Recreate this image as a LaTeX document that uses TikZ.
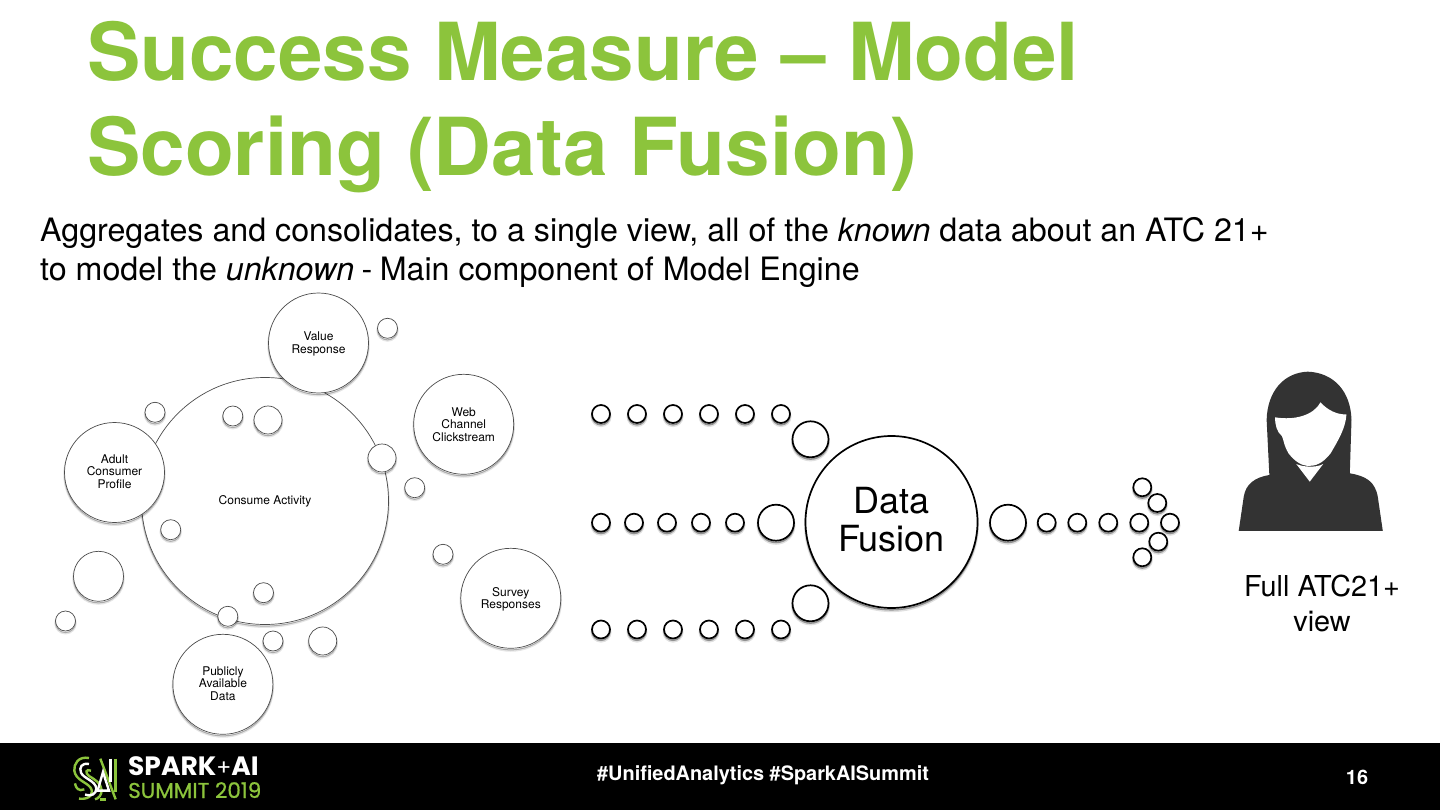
\documentclass[tikz,border=0pt]{standalone}
\usepackage{fontspec}
\setmainfont{TeX Gyre Heros}
\newfontfamily\logofont{Poppins}
\newfontfamily\logomed[FakeBold=.7]{Poppins}
\definecolor{titlegreen}{HTML}{8CC43C}
\definecolor{inkdark}{HTML}{333333}
\newcommand{\nudgetext}[2]{\raisebox{#1}[\height][\depth]{\parbox{90pt}{\centering #2}}}
\tikzset{
  softshadow/.style={preaction={draw=black,draw opacity=.10,line width=2.5pt,fill=none,transform canvas={yshift=-2.2pt}},
                     preaction={draw=black,draw opacity=.25,line width=1pt,fill=none,transform canvas={yshift=-1.6pt}}},
  hardshadow/.style={preaction={draw=black,draw opacity=.12,line width=3pt,fill=none,transform canvas={yshift=-2.6pt}},
                     preaction={draw=black,draw opacity=.35,line width=1.5pt,fill=none,transform canvas={yshift=-1.8pt}}},
  gcirc/.style={circle,draw=black!70,line width=.7pt,fill=white,inner sep=0pt,softshadow,align=center,font=\fontsize{12}{12.5}\selectfont},
  labelc/.style={gcirc,minimum size=100pt},
  bigc/.style={gcirc,minimum size=247pt},
  g10/.style={gcirc,minimum size=20pt},
  g14/.style={gcirc,minimum size=28pt},
  g25/.style={gcirc,minimum size=50pt},
  bcirc/.style={circle,draw=black,line width=1.7pt,fill=white,inner sep=0pt,hardshadow},
  b9/.style={bcirc,minimum size=18pt},
  b18/.style={bcirc,minimum size=36pt},
  fuse/.style={bcirc,minimum size=172pt,align=center,font=\fontsize{36}{38}\selectfont},
  titletext/.style={anchor=base west,inner sep=0pt,text=titlegreen,font=\fontsize{80}{80}\selectfont\bfseries},
  bodytext/.style={anchor=base west,inner sep=0pt,font=\fontsize{32.2}{33}\selectfont},
  foot/.style={inner sep=0pt,text=white,font=\bfseries\fontsize{19.9}{20}\selectfont},
}
\begin{document}
\begin{tikzpicture}[x=1pt,y=-1pt]
\useasboundingbox (0,0) rectangle (1440,810);
\fill[white] (0,0) rectangle (1440,810);
\node[titletext] (t1) at (87,81) {Success Measure – Model};
\node[titletext] (t2) at (87,176) {Scoring (Data Fusion)};
\node[bodytext] (b1) at (40,242) {Aggregates and consolidates, to a single view, all of the \textit{known} data about an ATC 21+};
\node[bodytext] (b2) at (40,280) {to model the \textit{unknown}\hspace{-1.5pt} -\hspace{-1.5pt} Main component of Model Engine};
% left cluster
\node[bigc] (consume) at (265,501) {Consume Activity};
\node[labelc] (value) at (318.5,343) {\nudgetext{-1pt}{Value\\Response}};
\node[labelc] (web) at (463.7,424.3) {Web\\Channel\\Clickstream};
\node[labelc] (adult) at (114.5,472.5) {\nudgetext{1pt}{Adult\\Consumer\\Profile}};
\node[labelc] (survey) at (510.8,598.3) {\nudgetext{-1pt}{Survey\\Responses}};
\node[labelc] (pub) at (222.9,684.3) {\nudgetext{1pt}{Publicly\\Available\\Data}};
\foreach \n/\p/\q in {a/387.5/328.3,b/155/412.3,c/232.8/416,d/414.7/487.7,e/170.7/529.7,f/65.5/621,g/263.5/592.7,h/227.8/616.3,i/273/641,j/443/554.3}
  \node[g10] (s\n) at (\p,\q) {};
\foreach \n/\p/\q in {a/268/420,b/382/458,c/322.7/641}
  \node[g14] (m\n) at (\p,\q) {};
\node[g25] (lg) at (98.5,576.3) {};
% fusion
\foreach \n/\p in {1/601,2/637,3/673,4/709,5/745,6/781}{
  \node[b9] (top\n) at (\p,414) {};
  \node[b9] (bot\n) at (\p,629.5) {};
}
\foreach \n/\p in {1/601,2/634,3/667,4/701,5/735}
  \node[b9] (mid\n) at (\p,522.7) {};
\node[b18] (bigmid) at (776,522.7) {};
\node[b18] (bigtop) at (810.5,439.3) {};
\node[b18] (bigbot) at (810.5,603.3) {};
\node[fuse] (fusion) at (891.5,522) {\raisebox{2pt}[\height][\depth]{\parbox{120pt}{\centering Data\\Fusion}}};
\node[b18] (bigout) at (1008,522.7) {};
\foreach \n/\p in {1/1046.7,2/1077.3,3/1108.3,4/1139.3,5/1170}
  \node[b9] (out\n) at (\p,522.7) {};
\foreach \n/\p/\q in {1/1142.3/487.3,2/1157.3/503,3/1158.3/541.7,4/1142.3/557.3}
  \node[b9] (head\n) at (\p,\q) {};
% person
\begin{scope}[shift={(1219.5,360)},x=.3367pt,y=-.3333pt]
\fill[inkdark] (57,513) -- (72,410) .. controls (78,372) and (105,352) .. (148,345)
  -- (140,180) .. controls (142,95) and (190,38) .. (262,35)
  .. controls (340,38) and (390,95) .. (392,180) -- (387,340)
  .. controls (435,348) and (462,365) .. (470,410) -- (485,513) -- cycle;
\fill[white] (165,172) .. controls (225,182) and (280,165) .. (300,127)
  .. controls (320,150) and (350,165) .. (377,163)
  .. controls (375,205) and (350,245) .. (330,280)
  .. controls (305,312) and (285,318) .. (262,318)
  .. controls (240,316) and (220,300) .. (205,280)
  .. controls (190,255) and (190,235) .. (185,228)
  .. controls (170,215) and (165,195) .. (165,172) -- cycle;
\fill[white] (228,312) .. controls (245,320) and (285,325) .. (308,312) -- (268,365) -- cycle;
\end{scope}
\node[align=center,inner sep=0pt,font=\fontsize{28.8}{35}\selectfont] (full) at (1322,603.5) {Full ATC21+\\view};
% footer
\fill[black] (0,743) rectangle (1440,810);
\node[foot] (hash) at (763,775) {\#UnifiedAnalytics \#SparkAISummit};
\node[foot] (num) at (1357,777) {16};
% logo
\begin{scope}[shift={(65,750)},x=.3333pt,y=-.3333pt,line width=2.4pt]
\draw[titlegreen] (72,24) .. controls (40,18) and (26,42) .. (28,62) .. controls (32,90) and (62,95) .. (76,112) .. controls (88,128) and (78,150) .. (42,146);
\draw[white] (72,42) .. controls (50,38) and (42,52) .. (48,68) .. controls (56,86) and (92,92) .. (94,116) .. controls (94,132) and (78,140) .. (60,134);
\draw[titlegreen] (78,62) .. controls (62,56) and (60,68) .. (72,78) .. controls (92,90) and (108,100) .. (110,120) .. controls (110,136) and (100,146) .. (90,148);
\draw[titlegreen] (30,100) .. controls (32,115) and (42,125) .. (58,118);
\draw[titlegreen] (106,26) -- (152,148);
\draw[white] (114,66) -- (132,122) -- (98,122) -- cycle;
\draw[titlegreen] (122,148) -- (104,148);
\draw[white] (136,26) -- (136,96);
\draw[titlegreen] (152,26) -- (152,126);
\end{scope}
\node[anchor=base west,inner sep=0pt,text=white,font=\logofont\bfseries\fontsize{26.5}{27}\selectfont] (spark) at (128,775.5) {SPARK{\logofont\mdseries\fontsize{22}{22}\selectfont +}AI};
\node[anchor=base west,inner sep=0pt,text=titlegreen,font=\logomed\fontsize{21.5}{22}\selectfont] (summit) at (128,798) {SUMMIT 2019};
\end{tikzpicture}
\end{document}
